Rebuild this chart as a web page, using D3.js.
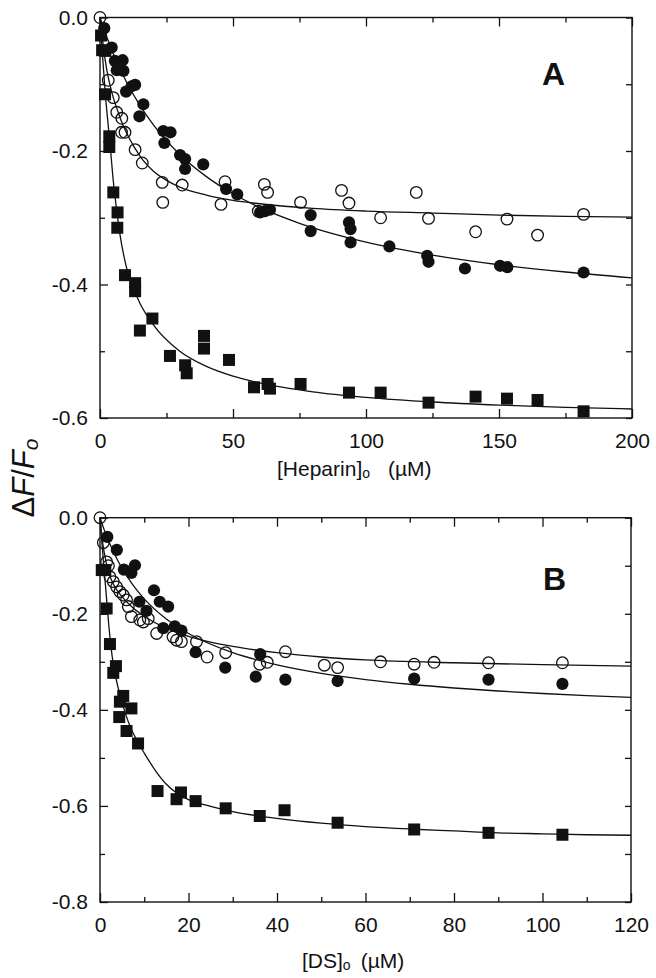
<!DOCTYPE html>
<html><head><meta charset="utf-8">
<script src="https://cdn.jsdelivr.net/npm/d3@7"></script>
<style>
body{margin:0;background:#fff}
svg{display:block}
text{font-family:"Liberation Sans",Arial,Helvetica,sans-serif;fill:#111}
</style></head>
<body><svg id="c" width="656" height="978"></svg>
<script>
// ---------- Panel A data (Heparin, µM ; ΔF/Fo) ----------
const heparinOpen = [[0,0],[3.1,-0.094],[5.0,-0.12],[6.3,-0.142],[8.2,-0.151],[8.1,-0.172],[9.4,-0.172],[13.2,-0.198],[15.9,-0.218],[23.4,-0.247],[23.6,-0.277],[30.9,-0.251],[47,-0.246],[45.5,-0.28],[61.8,-0.25],[63,-0.262],[59.5,-0.29],[75.4,-0.277],[90.8,-0.259],[93.6,-0.278],[105.5,-0.30],[118.9,-0.262],[123.5,-0.301],[141.2,-0.321],[153,-0.302],[164.5,-0.326],[181.8,-0.295]];
const heparinFilled = [[1.6,-0.016],[4.4,-0.045],[5.6,-0.065],[8.5,-0.064],[6.3,-0.079],[8.8,-0.08],[9.8,-0.111],[11.9,-0.103],[13.2,-0.101],[16.3,-0.13],[14.8,-0.148],[23.8,-0.17],[26.5,-0.172],[24.2,-0.188],[30.1,-0.206],[32,-0.212],[32,-0.227],[38.8,-0.22],[47.4,-0.257],[51.6,-0.265],[60.2,-0.292],[63.9,-0.288],[62,-0.29],[79.2,-0.296],[79.2,-0.32],[93.6,-0.307],[94.2,-0.317],[94.2,-0.337],[108.8,-0.343],[123,-0.357],[123.5,-0.366],[137.2,-0.376],[150.4,-0.372],[153.1,-0.374],[181.8,-0.382]];
const heparinSquare = [[0.4,-0.027],[0.8,-0.049],[2.0,-0.05],[1.9,-0.115],[3.5,-0.178],[3.5,-0.194],[5.0,-0.262],[6.6,-0.292],[6.5,-0.315],[9.4,-0.386],[13.2,-0.398],[13.2,-0.41],[19.7,-0.451],[15,-0.469],[26.3,-0.507],[32,-0.521],[32.6,-0.533],[39.1,-0.477],[39.1,-0.496],[48.5,-0.513],[57.9,-0.554],[63,-0.549],[63.9,-0.556],[75.4,-0.549],[93.6,-0.562],[105.5,-0.562],[123.5,-0.577],[141.2,-0.568],[153,-0.571],[164.5,-0.573],[181.8,-0.59]];
// fitted curves
const heparinOpenFit = [[0,0],[1,-0.035],[2,-0.065],[3,-0.088],[4,-0.105],[5,-0.12],[6.5,-0.138],[8,-0.155],[10,-0.173],[13,-0.195],[16,-0.213],[20,-0.23],[25,-0.244],[30,-0.254],[40,-0.266],[50,-0.274],[60,-0.279],[80,-0.286],[100,-0.29],[125,-0.293],[150,-0.296],[175,-0.298],[200,-0.299]];
const heparinFilledFit = [[0,0],[2,-0.0233],[5,-0.0542],[10,-0.097],[15,-0.1317],[20,-0.1604],[30,-0.2052],[40,-0.2384],[50,-0.2641],[60,-0.2845],[75,-0.3083],[100,-0.3365],[125,-0.356],[150,-0.3704],[175,-0.3813],[200,-0.39]];
const heparinSquareFit = [[0,0],[0.5,-0.03],[1,-0.06],[2,-0.115],[3,-0.158],[4,-0.2],[5,-0.245],[6,-0.28],[7.5,-0.325],[10,-0.375],[12.5,-0.405],[15,-0.428],[20,-0.46],[30,-0.5],[40,-0.5227],[50,-0.5373],[60,-0.5475],[80,-0.5608],[100,-0.5691],[125,-0.576],[150,-0.5806],[175,-0.584],[200,-0.5865]];
const heparinXTicks = [0,50,100,150,200];
const heparinXMinor = [25,75,125,175];
const heparinYTicks = [0,-0.2,-0.4,-0.6];
const heparinYMinor = [-0.1,-0.3,-0.5];

// ---------- Panel B data (DS, µM ; ΔF/Fo) ----------
const dsOpen = [[0,0],[0.75,-0.052],[1.5,-0.092],[1.9,-0.1],[2.25,-0.123],[3.0,-0.133],[3.76,-0.144],[4.5,-0.154],[5.25,-0.161],[6.0,-0.171],[6.4,-0.185],[7.1,-0.206],[9.0,-0.213],[9.8,-0.217],[10.9,-0.21],[12.8,-0.241],[16.5,-0.248],[17.3,-0.255],[18.4,-0.258],[21.8,-0.258],[24.2,-0.29],[28.4,-0.281],[36.1,-0.305],[37.8,-0.301],[41.9,-0.279],[50.7,-0.307],[53.7,-0.312],[63.4,-0.3],[71,-0.305],[75.5,-0.301],[87.8,-0.302],[104.5,-0.302]];
const dsFilled = [[1.65,-0.04],[3.8,-0.067],[5.4,-0.108],[7.1,-0.115],[7.9,-0.099],[12.2,-0.151],[13.5,-0.175],[15.4,-0.185],[8.9,-0.175],[10.5,-0.194],[14.3,-0.23],[16.9,-0.226],[18.4,-0.235],[21.6,-0.28],[28.3,-0.312],[36.2,-0.284],[35.2,-0.331],[41.9,-0.337],[53.7,-0.34],[71,-0.335],[87.8,-0.337],[104.5,-0.346]];
const dsSquare = [[0.4,-0.109],[1.2,-0.109],[1.5,-0.189],[2.25,-0.263],[3.6,-0.309],[3.0,-0.323],[5.25,-0.371],[7.1,-0.397],[4.35,-0.415],[4.5,-0.383],[6.0,-0.444],[8.6,-0.47],[13,-0.569],[17.3,-0.586],[18.3,-0.572],[21.6,-0.59],[28.4,-0.605],[36.1,-0.621],[41.7,-0.609],[53.7,-0.635],[71,-0.649],[87.8,-0.656],[104.5,-0.66]];
const dsOpenFit = [[0,0],[0.5,-0.045],[1,-0.075],[2,-0.115],[3,-0.138],[4,-0.153],[5,-0.165],[7.5,-0.188],[10,-0.205],[15,-0.23],[20,-0.247],[25,-0.259],[30,-0.268],[40,-0.281],[50,-0.29],[60,-0.296],[80,-0.302],[100,-0.306],[120,-0.309]];
const dsFilledFit = [[0,0],[1,-0.0264],[2,-0.0498],[3,-0.0705],[5,-0.1057],[7.5,-0.1408],[10,-0.1689],[15,-0.211],[20,-0.241],[30,-0.281],[40,-0.3064],[50,-0.324],[60,-0.3369],[70,-0.3467],[80,-0.3545],[90,-0.3608],[100,-0.366],[110,-0.3703],[120,-0.374]];
const dsSquareFit = [[0,0],[0.5,-0.06],[1,-0.115],[1.5,-0.17],[2,-0.225],[2.5,-0.27],[3,-0.305],[4,-0.35],[5,-0.385],[6.4,-0.425],[8.6,-0.468],[10,-0.49],[12.8,-0.53],[15,-0.555],[17.3,-0.573],[20,-0.587],[25,-0.601],[30,-0.612],[40,-0.626],[50,-0.636],[60,-0.643],[70,-0.648],[80,-0.652],[90,-0.656],[100,-0.658],[110,-0.66],[120,-0.661]];
const dsXTicks = [0,20,40,60,80,100,120];
const dsXMinor = [10,30,50,70,90,110];
const dsYTicks = [0,-0.2,-0.4,-0.6,-0.8];
const dsYMinor = [-0.1,-0.3,-0.5,-0.7];

const INK = "#111";
const svg = d3.select("#c");

function styleAxis(sel, fs){
  sel.select(".domain").remove();
  sel.attr("font-size", fs).attr("font-family", '"Liberation Sans",Arial,Helvetica,sans-serif').attr("color", INK);
  sel.selectAll(".tick line").attr("stroke-width", 1.3);
}

function panel(cfg){
  const x = d3.scaleLinear().domain([0, cfg.xmax]).range([cfg.left, cfg.right]);
  const y = d3.scaleLinear().domain([cfg.ymin, 0]).range([cfg.bottom, cfg.top]);
  const g = svg.append("g");
  const fmtY = d => d.toFixed(1);
  const FS = 21;

  // bottom
  g.append("g").attr("transform", `translate(0,${y(cfg.ymin)})`)
    .call(d3.axisBottom(x).tickValues(cfg.xTicks).tickSize(-9).tickPadding(15).tickFormat(d3.format("d")))
    .call(s => styleAxis(s, FS));
  g.append("g").attr("transform", `translate(0,${y(cfg.ymin)})`)
    .call(d3.axisBottom(x).tickValues(cfg.xMinor).tickSize(-5).tickFormat(""))
    .call(s => styleAxis(s, FS));
  // top
  g.append("g").attr("transform", `translate(0,${y(0)})`)
    .call(d3.axisTop(x).tickValues(cfg.xTicks).tickSize(-9).tickFormat(""))
    .call(s => styleAxis(s, FS));
  g.append("g").attr("transform", `translate(0,${y(0)})`)
    .call(d3.axisTop(x).tickValues(cfg.xMinor).tickSize(-5).tickFormat(""))
    .call(s => styleAxis(s, FS));
  // left
  g.append("g").attr("transform", `translate(${x(0)},0)`)
    .call(d3.axisLeft(y).tickValues(cfg.yTicks).tickSize(-8).tickPadding(12).tickFormat(fmtY))
    .call(s => styleAxis(s, FS));
  g.append("g").attr("transform", `translate(${x(0)},0)`)
    .call(d3.axisLeft(y).tickValues(cfg.yMinor).tickSize(-5).tickFormat(""))
    .call(s => styleAxis(s, FS));
  // right
  g.append("g").attr("transform", `translate(${x(cfg.xmax)},0)`)
    .call(d3.axisRight(y).tickValues(cfg.yTicks.concat(cfg.yMinor)).tickSize(-6).tickFormat(""))
    .call(s => styleAxis(s, FS));

  // frame
  g.append("rect")
    .attr("x", x(0)).attr("y", y(0))
    .attr("width", x(cfg.xmax) - x(0)).attr("height", y(cfg.ymin) - y(0))
    .attr("fill", "none").attr("stroke", INK).attr("stroke-width", 1.4);

  // fit curves
  const line = d3.line().x(d => x(d[0])).y(d => y(d[1])).curve(d3.curveMonotoneX);
  cfg.fits.forEach(f => {
    g.append("path").datum(f).attr("d", line)
      .attr("fill", "none").attr("stroke", INK).attr("stroke-width", 1.3);
  });

  // markers
  g.append("g").selectAll("rect").data(cfg.squares).join("rect")
    .attr("x", d => x(d[0]) - 6).attr("y", d => y(d[1]) - 6)
    .attr("width", 12).attr("height", 12).attr("fill", INK);
  g.append("g").selectAll("circle").data(cfg.filled).join("circle")
    .attr("cx", d => x(d[0])).attr("cy", d => y(d[1])).attr("r", 6.1).attr("fill", INK);
  g.append("g").selectAll("circle").data(cfg.open).join("circle")
    .attr("cx", d => x(d[0])).attr("cy", d => y(d[1])).attr("r", 5.8)
    .attr("fill", "none").attr("stroke", INK).attr("stroke-width", 1.3);

  // panel letter
  g.append("text").attr("x", cfg.letterX).attr("y", cfg.letterY)
    .attr("font-size", 32).attr("font-weight", "bold").text(cfg.letter);

  // x label
  const t = g.append("text").attr("x", cfg.labelX).attr("y", cfg.labelY).attr("font-size", 21);
  t.append("tspan").text(cfg.labelMain);
  t.append("tspan").attr("font-size", 14).attr("dy", 2).text("o");
  t.append("tspan").attr("dy", -2).attr("dx", cfg.labelGap).text("(\u00b5M)");
}

panel({xmax:200, ymin:-0.6, left:100, right:632, top:17.5, bottom:418,
  xTicks:heparinXTicks, xMinor:heparinXMinor, yTicks:heparinYTicks, yMinor:heparinYMinor,
  fits:[heparinOpenFit, heparinFilledFit, heparinSquareFit],
  squares:heparinSquare, filled:heparinFilled, open:heparinOpen,
  letter:"A", letterX:542, letterY:85,
  labelMain:"[Heparin]", labelX:277, labelY:476, labelGap:18});

panel({xmax:120, ymin:-0.8, left:100, right:631, top:517.7, bottom:902,
  xTicks:dsXTicks, xMinor:dsXMinor, yTicks:dsYTicks, yMinor:dsYMinor,
  fits:[dsOpenFit, dsFilledFit, dsSquareFit],
  squares:dsSquare, filled:dsFilled, open:dsOpen,
  letter:"B", letterX:543, letterY:590,
  labelMain:"[DS]", labelX:302, labelY:968, labelGap:10});

// shared y title
const yt = svg.append("text").attr("transform", "translate(34,478) rotate(-90)")
  .attr("text-anchor", "middle").attr("font-size", 31);
yt.append("tspan").text("\u0394");
yt.append("tspan").attr("font-style", "italic").text("F");
yt.append("tspan").text("/");
yt.append("tspan").attr("font-style", "italic").text("F");
yt.append("tspan").attr("font-style", "italic").attr("font-size", 21).attr("dy", 4).text("o");
</script></body></html>
